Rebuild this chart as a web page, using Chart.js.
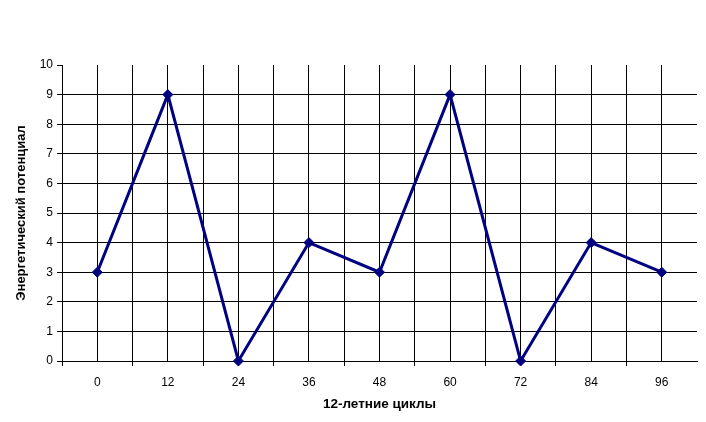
<!DOCTYPE html>
<html>
<head>
<meta charset="utf-8">
<script src="https://cdn.jsdelivr.net/npm/chart.js@4/dist/chart.umd.min.js"></script>
<style>
  html, body { margin: 0; padding: 0; background: #fff; }
  #wrap { width: 706px; height: 422px; }
</style>
</head>
<body>
<div id="wrap"><canvas id="grafico"></canvas></div>
<script>
const ciclos = [0, 12, 24, 36, 48, 60, 72, 84, 96];
const potencial = [3, 9, 0, 4, 3, 9, 0, 4, 3];
const tituloEjeX = '12-летние циклы';
const tituloEjeY = 'Энергетический потенциал';

const negro = '#000000';
const nada = 'rgba(0,0,0,0)';

const ctx = document.getElementById('grafico').getContext('2d');
window.chartCiclos = new Chart(ctx, {
  type: 'line',
  data: {
    datasets: [{
      data: ciclos.map((c, i) => ({ x: c, y: potencial[i] })),
      borderColor: '#000080',
      backgroundColor: '#000080',
      borderWidth: 3,
      tension: 0,
      fill: false,
      clip: false,
      pointStyle: 'rectRot',
      pointRadius: 5,
      pointHoverRadius: 5,
      pointBorderWidth: 1
    }]
  },
  options: {
    responsive: true,
    maintainAspectRatio: false,
    animation: false,
    layout: { padding: { left: 0, right: 9, top: 65, bottom: 0 } },
    plugins: {
      legend: { display: false },
      tooltip: { enabled: false }
    },
    scales: {
      x: {
        type: 'linear',
        min: -6,
        max: 102,
        afterFit: (s) => { s.height = 61; },
        afterBuildTicks: (s) => {
          const t = [];
          for (let v = -6; v <= 102; v += 6) t.push({ value: v });
          s.ticks = t;
        },
        ticks: {
          autoSkip: false,
          maxRotation: 0,
          padding: 9,
          color: negro,
          font: { family: 'Liberation Sans, Arial', size: 12 },
          callback: (v) => (v % 12 === 0 && v >= 0 && v <= 96) ? String(v) : ''
        },
        grid: {
          color: (c) => (c.tick && c.tick.value === 102) ? nada : negro,
          tickColor: (c) => (c.tick && (c.tick.value + 6) % 12 === 0 && c.tick.value !== 102) ? negro : nada,
          lineWidth: 1,
          tickLength: 5
        },
        border: { display: true, color: negro, width: 1 },
        title: {
          display: true,
          text: tituloEjeX,
          color: negro,
          font: { family: 'Liberation Sans, Arial', size: 13.5, weight: 'bold' },
          padding: { top: 0, bottom: 10 }
        }
      },
      y: {
        min: 0,
        max: 10,
        afterFit: (s) => { s.width = 62; },
        ticks: {
          stepSize: 1,
          padding: 4,
          color: negro,
          font: { family: 'Liberation Sans, Arial', size: 12 }
        },
        grid: {
          color: (c) => (c.tick && c.tick.value === 10) ? nada : negro,
          tickColor: negro,
          lineWidth: 1,
          tickLength: 5
        },
        border: { display: true, color: negro, width: 1 },
        title: {
          display: true,
          text: tituloEjeY,
          color: negro,
          font: { family: 'Liberation Sans, Arial', size: 13, weight: 'bold' },
          padding: { top: 14, bottom: 0 }
        }
      }
    }
  }
});
</script>
</body>
</html>
